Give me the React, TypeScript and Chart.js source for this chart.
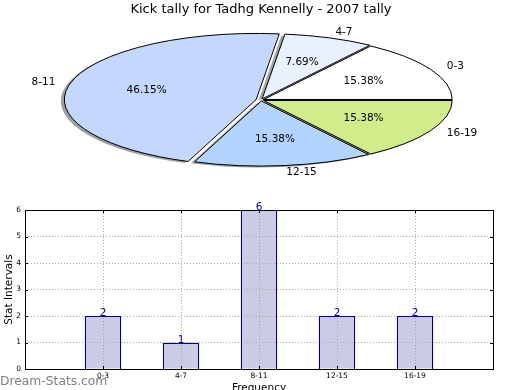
import React, { useEffect, useRef } from 'react';
import { Chart, registerables } from 'chart.js';

Chart.register(...registerables);
Chart.defaults.font.family = 'DejaVu Sans';

// ---------- data ----------
const TITLE = 'Kick tally for Tadhg Kennelly - 2007 tally';
const categories = ['0-3', '4-7', '8-11', '12-15', '16-19'];
const counts = [2, 1, 6, 2, 2];
const yTicks = [0, 1, 2, 3, 4, 5, 6];
const Y_LABEL = 'Stat Intervals';
const X_LABEL = 'Frequency';
const WATERMARK = 'Dream-Stats.com';

// ---------- styles ----------
const pieColors = ['#ffffff', '#eaf1fe', '#c4d8fe', '#b3d4fe', '#d0ec8b'];
const pieOffsets = [12, 12, 20, 12, 12];
const PIE_R = 188;
const PIE_CY = 100;
const PIE_K = 0.345;
const SHADOW_DX = -3.5;
const SHADOW_DY = 1.5;
const BAR_FILL = '#cbcbe3';
const BAR_EDGE = '#000080';

function hexToRgb(h: string) {
  const n = parseInt(h.slice(1), 16);
  return [(n >> 16) & 255, (n >> 8) & 255, n & 255];
}
function shadowColor(h: string) {
  const [r, g, b] = hexToRgb(h);
  return `rgba(${Math.round(r * 0.3)},${Math.round(g * 0.3)},${Math.round(b * 0.3)},0.5)`;
}

function pieTransform(ctx: CanvasRenderingContext2D, arc: any) {
  ctx.translate(arc.x, PIE_CY);
  ctx.scale(1, -PIE_K);
  ctx.translate(-arc.x, -arc.y);
}
function toScreen(arc: any, px: number, py: number) {
  return [px, PIE_CY - PIE_K * (py - arc.y)];
}
function arcGeom(arc: any) {
  const p = arc.getProps(['x', 'y', 'startAngle', 'endAngle', 'outerRadius', 'circumference']);
  const off = (arc.options.offset || 0) / 4;
  const mid = (p.startAngle + p.endAngle) / 2;
  const fix = 1 - Math.sin(Math.min(Math.PI, p.circumference || 0));
  return {
    cx: p.x + Math.cos(mid) * off,
    cy: p.y + Math.sin(mid) * off,
    r: p.outerRadius + off * fix,
    baseR: p.outerRadius,
    start: p.startAngle,
    end: p.endAngle,
    mid,
  };
}
function buildPath(ctx: CanvasRenderingContext2D, g: any) {
  ctx.moveTo(g.cx, g.cy);
  ctx.arc(g.cx, g.cy, g.r, g.start, g.end);
  ctx.closePath();
}

const piePlugin = {
  id: 'pieSkew',
  beforeDatasetsDraw(chart: any) {
    const ctx: CanvasRenderingContext2D = chart.ctx;
    const arcs = chart.getDatasetMeta(0).data;
    arcs.forEach((arc: any, i: number) => {
      const g = arcGeom(arc);
      ctx.save();
      ctx.translate(SHADOW_DX, SHADOW_DY);
      pieTransform(ctx, arc);
      ctx.beginPath();
      buildPath(ctx, g);
      ctx.restore();
      ctx.fillStyle = shadowColor(pieColors[i]);
      ctx.fill();
    });
    ctx.save();
    pieTransform(ctx, arcs[0]);
  },
  afterDatasetsDraw(chart: any) {
    const ctx: CanvasRenderingContext2D = chart.ctx;
    ctx.restore();
    const arcs = chart.getDatasetMeta(0).data;
    const total = counts.reduce((a, b) => a + b, 0);
    arcs.forEach((arc: any) => {
      const g = arcGeom(arc);
      ctx.save();
      pieTransform(ctx, arc);
      ctx.beginPath();
      buildPath(ctx, g);
      ctx.restore();
      ctx.lineWidth = 1;
      ctx.strokeStyle = '#000';
      ctx.stroke();
    });
    ctx.save();
    ctx.font = '10.5px "DejaVu Sans"';
    ctx.fillStyle = '#000';
    ctx.textBaseline = 'middle';
    arcs.forEach((arc: any, i: number) => {
      const g = arcGeom(arc);
      const c = Math.cos(g.mid), s = Math.sin(g.mid);
      const [px, py] = toScreen(arc, g.cx + c * 0.6 * g.baseR, g.cy + s * 0.6 * g.baseR);
      ctx.textAlign = 'center';
      ctx.fillText(((counts[i] / total) * 100).toFixed(2) + '%', px, py);
      const [lx, ly] = toScreen(arc, g.cx + c * 1.1 * g.baseR, g.cy + s * 1.1 * g.baseR);
      ctx.textAlign = c > 0 ? 'left' : 'right';
      ctx.fillText(categories[i], lx, ly);
    });
    ctx.restore();
  },
};

const barPlugin = {
  id: 'barDecor',
  afterDraw(chart: any) {
    const ctx: CanvasRenderingContext2D = chart.ctx;
    const a = chart.chartArea;
    const xs = chart.scales.x, ys = chart.scales.y;
    ctx.save();
    // bar edges over the grid
    ctx.strokeStyle = BAR_EDGE;
    ctx.lineWidth = 1;
    chart.getDatasetMeta(0).data.forEach((bar: any) => {
      const p = bar.getProps(['x', 'y', 'base', 'width']);
      const l = Math.round(p.x - p.width / 2);
      const r = Math.round(p.x + p.width / 2);
      const t = Math.round(p.y);
      const b = Math.round(p.base);
      ctx.strokeRect(l + 0.5, t + 0.5, r - l - 1, b - t);
    });
    ctx.strokeStyle = '#000';
    ctx.beginPath();
    yTicks.forEach((v) => {
      const y = Math.round(ys.getPixelForValue(v)) + 0.5;
      ctx.moveTo(a.left, y); ctx.lineTo(a.left + 3, y);
      ctx.moveTo(a.right, y); ctx.lineTo(a.right - 3, y);
    });
    categories.forEach((_, i) => {
      const x = Math.round(xs.getPixelForValue(i)) + 0.5;
      ctx.moveTo(x, a.bottom); ctx.lineTo(x, a.bottom - 3);
      ctx.moveTo(x, a.top); ctx.lineTo(x, a.top + 3);
    });
    ctx.stroke();
    ctx.strokeRect(Math.round(a.left) + 0.5, Math.round(a.top) + 0.5, Math.round(a.right - a.left), Math.round(a.bottom - a.top));
    ctx.font = '10.5px "DejaVu Sans"';
    ctx.fillStyle = BAR_EDGE;
    ctx.textAlign = 'center';
    ctx.textBaseline = 'alphabetic';
    chart.getDatasetMeta(0).data.forEach((bar: any, i: number) => {
      ctx.fillText(String(counts[i]), bar.x, bar.y);
    });
    ctx.font = '12.3px "DejaVu Sans"';
    ctx.fillStyle = '#808080';
    ctx.textAlign = 'left';
    ctx.fillText(WATERMARK, 0, 385);
    ctx.restore();
  },
};

function pieConfig(): any {
  return {
    type: 'pie',
    data: {
      labels: categories,
      datasets: [
        {
          data: counts,
          backgroundColor: pieColors,
          borderWidth: 0,
          offset: pieOffsets,
        },
      ],
    },
    options: {
      animation: false,
      responsive: false,
      events: [],
      rotation: 90,
      radius: PIE_R,
      layout: { padding: { left: 2, right: 0, top: 0, bottom: 0 } },
      plugins: {
        legend: { display: false },
        tooltip: { enabled: false },
        title: {
          display: true,
          text: TITLE,
          color: '#000',
          font: { family: 'DejaVu Sans', size: 13, weight: 'normal' },
          padding: { top: 2, bottom: 0 },
        },
      },
    },
    plugins: [piePlugin],
  };
}

function barConfig(): any {
  const tickFont = { family: 'DejaVu Sans', size: 7.5 };
  return {
    type: 'bar',
    data: {
      datasets: [
        {
          data: categories.map((_, i) => ({ x: i, y: counts[i] })),
          backgroundColor: BAR_FILL,
          borderWidth: 0,
          barPercentage: 0.47,
          categoryPercentage: 1,
        },
      ],
    },
    options: {
      animation: false,
      responsive: false,
      events: [],
      layout: { padding: { top: 210, right: 27, bottom: 0, left: 0 } },
      plugins: { legend: { display: false }, tooltip: { enabled: false } },
      scales: {
        x: {
          type: 'linear',
          min: -1,
          max: categories.length,
          offset: false,
          afterBuildTicks: (s: any) => {
            s.ticks = categories.map((_, i) => ({ value: i }));
          },
          afterFit: (s: any) => {
            s.height = 21;
            s.paddingLeft = 0;
            s.paddingRight = 0;
          },
          ticks: {
            callback: (v: number) => categories[v] ?? '',
            font: tickFont,
            color: '#000',
            padding: 3,
            autoSkip: false,
            maxRotation: 0,
          },
          grid: { color: '#a8a8a8', drawTicks: false, lineWidth: 1, offset: false, z: 1 },
          border: { display: false, dash: [1, 2] },
          title: {
            display: true,
            text: X_LABEL,
            color: '#000',
            font: { family: 'DejaVu Sans', size: 10.5 },
            padding: { top: 0, bottom: -5 },
          },
        },
        y: {
          min: 0,
          max: 6,
          afterBuildTicks: (s: any) => {
            s.ticks = yTicks.map((v) => ({ value: v }));
          },
          afterFit: (s: any) => {
            s.width = 25;
            s.paddingTop = 0;
            s.paddingBottom = 0;
          },
          ticks: { font: tickFont, color: '#000', padding: 4 },
          grid: { color: '#a8a8a8', drawTicks: false, lineWidth: 1, z: 1 },
          border: { display: false, dash: [1, 2] },
          title: {
            display: true,
            text: Y_LABEL,
            color: '#000',
            font: { family: 'DejaVu Sans', size: 10.5 },
            padding: { top: 3, bottom: 0 },
          },
        },
      },
    },
    plugins: [barPlugin],
  };
}

export default function App() {
  const pieRef = useRef<HTMLCanvasElement>(null);
  const barRef = useRef<HTMLCanvasElement>(null);
  useEffect(() => {
    const bar = new Chart(barRef.current as HTMLCanvasElement, barConfig());
    const pie = new Chart(pieRef.current as HTMLCanvasElement, pieConfig());
    return () => {
      pie.destroy();
      bar.destroy();
    };
  }, []);
  return (
    <div style={{ position: 'fixed', left: 0, top: 0, width: 520, height: 390, background: '#fff' }}>
      <canvas ref={barRef} width={520} height={390} style={{ position: 'absolute', left: 0, top: 0 }} />
      <canvas ref={pieRef} width={520} height={390} style={{ position: 'absolute', left: 0, top: 0 }} />
    </div>
  );
}
